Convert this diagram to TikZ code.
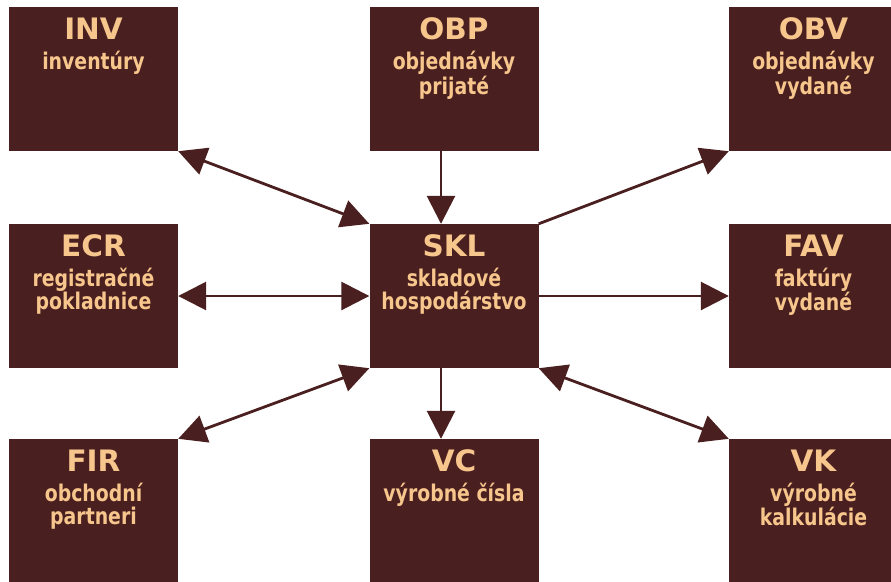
\documentclass[tikz,border=0pt]{standalone}
\usepackage{fontspec}
\setmainfont{DejaVu Sans}[FakeStretch=0.82]
\newfontfamily\titlefont{DejaVu Sans}
\usetikzlibrary{arrows.meta}
\definecolor{boxred}{RGB}{74,31,32}
\definecolor{boxtext}{RGB}{247,198,140}
\tikzset{
	module/.style={fill=boxred, minimum width=169pt, minimum height=144pt, inner sep=0pt},
	modtext/.style={text=boxtext, font=\bfseries\fontsize{23}{23}\selectfont, align=center, anchor=north, inner sep=0pt},
	link/.style={draw=boxred, line width=2.8pt},
	>={Triangle[length=28pt,width=28pt]}
}
\newcommand{\modname}[1]{{\titlefont\bfseries\fontsize{29.5}{29}\selectfont #1}\\[7pt]}
\begin{document}
\begin{tikzpicture}[x=1pt, y=-1pt]
	\useasboundingbox (0,0) rectangle (891,581);
	
	%top row
	\node[module] (inv) at (93.5,79){};
	\node[module] (obp) at (454,79){};
	\node[module] (obv) at (813.5,79){};
	\node[modtext] at ([yshift=-11pt]inv.north){\modname{INV}inventúry};
	\node[modtext] at ([yshift=-11pt]obp.north){\modname{OBP}objednávky\\prijaté};
	\node[modtext] at ([yshift=-11pt]obv.north){\modname{OBV}objednávky\\vydané};
	
	%middle row
	\node[module] (ecr) at (93.5,296){};
	\node[module] (skl) at (454,296){};
	\node[module] (fav) at (813.5,296){};
	\node[modtext] at ([yshift=-11pt]ecr.north){\modname{ECR}registračné\\pokladnice};
	\node[modtext] at ([yshift=-11pt]skl.north){\modname{SKL}skladové\\hospodárstvo};
	\node[modtext] at ([yshift=-11pt]fav.north){\modname{FAV}faktúry\\vydané};
	
	%bottom row
	\node[module] (fir) at (93.5,511){};
	\node[module] (vc) at (454,511){};
	\node[module] (vk) at (813.5,511){};
	\node[modtext] at ([yshift=-11pt]fir.north){\modname{FIR}obchodní\\partneri};
	\node[modtext] at ([yshift=-11pt]vc.north){\modname{VC}výrobné čísla};
	\node[modtext] at ([yshift=-11pt]vk.north){\modname{VK}výrobné\\kalkulácie};
	
	%links
	\draw[link, <->] (inv.south east) -- (skl.north west);
	\draw[link, ->] ([xshift=-13pt]obp.south) -- ([xshift=-13pt]skl.north);
	\draw[link, ->] (skl.north east) -- (obv.south west);
	\draw[link, <->] (ecr.east) -- (skl.west);
	\draw[link, ->] (skl.east) -- (fav.west);
	\draw[link, <->] (fir.north east) -- (skl.south west);
	\draw[link, ->] ([xshift=-13pt]skl.south) -- ([xshift=-13pt]vc.north);
	\draw[link, <->] (skl.south east) -- (vk.north west);
	
\end{tikzpicture}
\end{document}
